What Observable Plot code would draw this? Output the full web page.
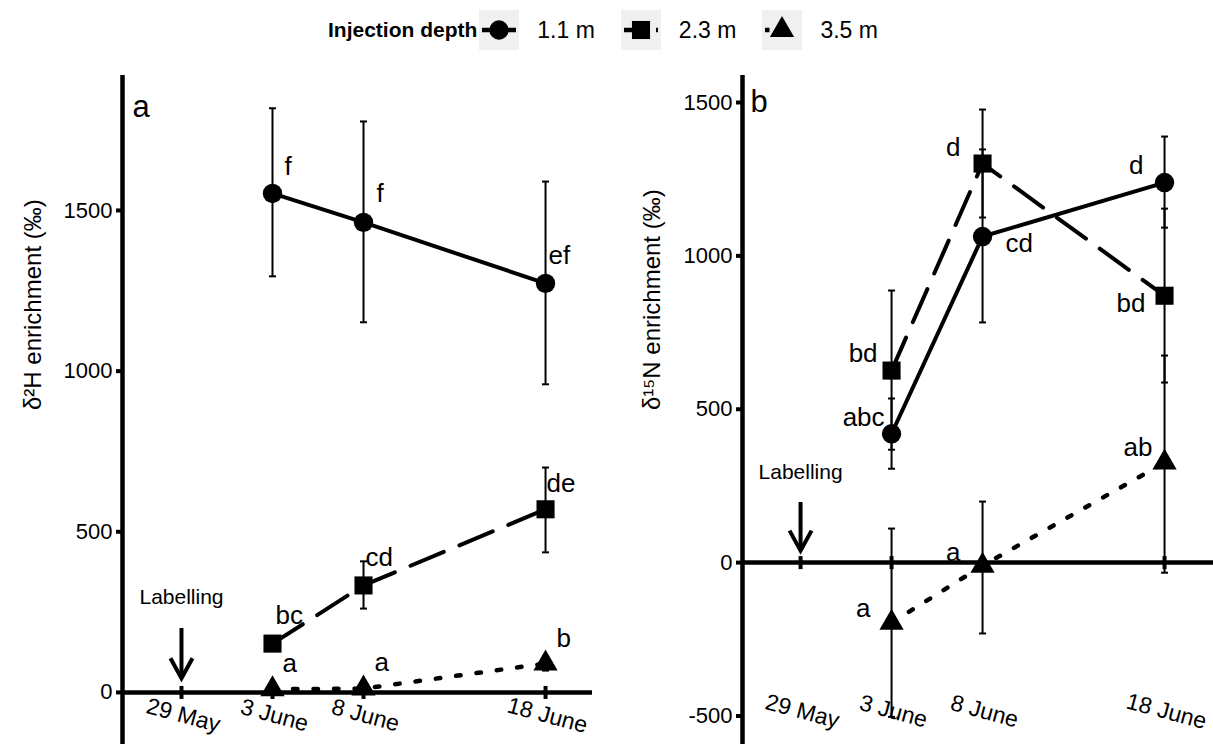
<!DOCTYPE html>
<html><head><meta charset="utf-8">
<script src="https://cdn.jsdelivr.net/npm/d3@7"></script>
<script src="https://cdn.jsdelivr.net/npm/@observablehq/plot@0.6"></script>
<style>
body{margin:0;background:#fff;font-family:"Liberation Sans",Arial,sans-serif;}
#wrap{position:relative;width:1213px;height:744px;overflow:hidden;background:#fff;}
#legend{position:absolute;top:0;left:0;width:1213px;height:60px;display:flex;align-items:center;justify-content:flex-start;padding-left:328px;box-sizing:border-box;color:#000;}
#legend .title{font-weight:bold;font-size:21px;margin-right:2px;}
#legend .lab{font-size:23px;margin:0 26px 0 18px;}
#legend svg{display:block;}
#pa{position:absolute;left:0;top:60px;}
#pb{position:absolute;left:592px;top:60px;}
</style></head><body>
<div id="wrap"><div id="legend"></div><div id="pa"></div><div id="pb"></div></div>
<script>
// ---------- data ----------
const tickDates = ["2016-05-29","2016-06-03","2016-06-08","2016-06-18"];
const tickLabels = ["29 May","3 June","8 June","18 June"];
const sampleDates = ["2016-06-03","2016-06-08","2016-06-18"];
const depths = ["1.1 m","2.3 m","3.5 m"];

// panel a: δ2H enrichment
const h2_11 = [1553, 1463, 1273];
const h2_11_lo = [1295, 1152, 959];
const h2_11_hi = [1818, 1777, 1590];
const h2_23 = [152, 333, 570];
const h2_23_lo = [134, 261, 436];
const h2_23_hi = [170, 408, 700];
const h2_35 = [10, 12, 90];
const h2_35_lo = [0, 2, 68];
const h2_35_hi = [20, 22, 112];
const h2_11_let = ["f","f","ef"];
const h2_23_let = ["bc","cd","de"];
const h2_35_let = ["a","a","b"];

// panel b: δ15N enrichment
const n15_11 = [420, 1063, 1239];
const n15_11_lo = [306, 783, 1092];
const n15_11_hi = [535, 1347, 1389];
const n15_23 = [626, 1301, 870];
const n15_23_lo = [368, 1125, 587];
const n15_23_hi = [887, 1477, 1154];
const n15_35 = [-196, -10, 326];
const n15_35_lo = [-503, -231, -33];
const n15_35_hi = [111, 199, 675];
const n15_11_let = ["abc","cd","d"];
const n15_23_let = ["bd","d","bd"];
const n15_35_let = ["a","a","ab"];

const yTicksA = [0, 500, 1000, 1500];
const yTicksB = [-500, 0, 500, 1000, 1500];
const labellingA = {top: 199, tip: 44, text: 296};
const labellingB = {top: 196, tip: 39, text: 293};

// ---------- layout / style ----------
const offA = [ // [dx, dy, anchor] per label, series order 1.1, 2.3, 3.5
  [[12,-27,"start"],[13,-29,"start"],[3,-28,"start"]],
  [[3,-28,"start"],[2,-28,"start"],[1,-26,"start"]],
  [[10,-26,"start"],[11,-26,"start"],[11,-25,"start"]]
];
const offB = [
  [[-7,-16,"end"],[23,7,"start"],[-21,-17,"end"]],
  [[-14,-17,"end"],[-22,-16,"end"],[-19,8,"end"]],
  [[-21,-14,"end"],[-22,-13,"end"],[-12,-15,"end"]]
];
const symbolOf = {"1.1 m":"circle","2.3 m":"square","3.5 m":"triangle"};
const rOf = {"1.1 m":9.7,"2.3 m":10.2,"3.5 m":9};
const dashOf = {"1.1 m":null,"2.3 m":"36,17","3.5 m":"4.5,16"};
const widthOf = {"1.1 m":4,"2.3 m":4,"3.5 m":4.5};
const FONT = "'Liberation Sans', Arial, sans-serif";

const parse = d3.utcParse("%Y-%m-%d");
const DAY = 864e5;

const vTick = {draw(c, s){const r=Math.sqrt(s/Math.PI); c.moveTo(0,-r); c.lineTo(0,r);}};
const hCap = {draw(c, s){const r=Math.sqrt(s/Math.PI); c.moveTo(-r,0); c.lineTo(r,0);}};
const vHead = {draw(c, s){const r=Math.sqrt(s/Math.PI); c.moveTo(-r*0.55,-r); c.lineTo(0,0); c.lineTo(r*0.55,-r);}};

function rows(means, lo, hi, letters, depth){
  return sampleDates.map((d,i)=>({date: parse(d), value: means[i], lo: lo[i], hi: hi[i], letter: letters[i], depth}));
}

function panel(el, o){
  const first = parse(tickDates[0]);
  const xDomain = [new Date(+first - o.leftDays*DAY), new Date(+first + o.rightDays*DAY)];
  const ticks = tickDates.map(parse);
  const marks = [];
  // axis lines
  marks.push(Plot.ruleY([0], {strokeWidth: 4.5, stroke: "black"}));
  marks.push(Plot.ruleX([xDomain[0]], {strokeWidth: 4.5, stroke: "black"}));
  marks.push(Plot.axisY({ticks: o.yTicks, tickFormat: d => String(d), tickSize: 6, tickPadding: 4, strokeWidth: 4, fontSize: 22, label: null}));
  marks.push(Plot.dot(ticks, {x: d => d, y: 0, symbol: vTick, r: 6.5, stroke: "black", fill: "none", strokeWidth: 4}));
  marks.push(Plot.text(ticks, {x: d => d, text: (d,i) => tickLabels[i], frameAnchor: "bottom", dy: o.tickDy, rotate: 15, fontSize: 23}));
  // labelling arrow
  marks.push(Plot.ruleX([first], {x: d => d, y1: o.lab.top, y2: o.lab.tip + 3, strokeWidth: 4, stroke: "black"}));
  marks.push(Plot.dot([first], {x: d => d, y: o.lab.tip, symbol: vHead, r: 20, stroke: "black", fill: "none", strokeWidth: 4, strokeLinejoin: "miter"}));
  marks.push(Plot.text([first], {x: d => d, y: o.lab.text, text: () => "Labelling", fontSize: 21}));
  // series
  o.series.forEach((s, k) => {
    const dep = depths[k];
    marks.push(Plot.ruleX(s, {x: "date", y1: "lo", y2: "hi", strokeWidth: 2, stroke: "black"}));
    marks.push(Plot.dot(s, {x: "date", y: "lo", symbol: hCap, r: 3.5, stroke: "black", fill: "none", strokeWidth: 2}));
    marks.push(Plot.dot(s, {x: "date", y: "hi", symbol: hCap, r: 3.5, stroke: "black", fill: "none", strokeWidth: 2}));
    marks.push(Plot.line(s, {x: "date", y: "value", stroke: "black", strokeWidth: widthOf[dep], strokeDasharray: dashOf[dep]}));
  });
  o.series.forEach((s, k) => {
    const dep = depths[k];
    marks.push(Plot.dot(s, {x: "date", y: "value", symbol: symbolOf[dep], r: rOf[dep], fill: "black", stroke: "none"}));
    s.forEach((row, i) => {
      const [dx, dy, anchor] = o.offsets[k][i];
      marks.push(Plot.text([row], {x: "date", y: "value", text: "letter", dx, dy, textAnchor: anchor, fontSize: 26}));
    });
  });
  marks.push(Plot.text([o.title], {text: d => d, frameAnchor: "left", rotate: -90, dx: o.titleDx, fontSize: 24}));
  marks.push(Plot.text([o.letter], {text: d => d, frameAnchor: "top-left", dx: o.letterDx, dy: o.letterDy, lineAnchor: "middle", textAnchor: "start", fontSize: 31}));

  const chart = Plot.plot({
    width: o.width, height: 684,
    marginLeft: o.marginLeft, marginRight: 0, marginTop: 15, marginBottom: 0,
    style: {fontFamily: FONT, fontSize: "20px", color: "black", background: "white", overflow: "visible"},
    x: {type: "utc", domain: xDomain, axis: null},
    y: {domain: o.yDomain, axis: null},
    marks
  });
  document.getElementById(el).appendChild(chart);
}

panel("pa", {
  width: 592, marginLeft: 122, leftDays: 3.24, rightDays: 22.58,
  yDomain: [-162, 1920], yTicks: yTicksA, tickDy: -22, lab: labellingA,
  series: [rows(h2_11,h2_11_lo,h2_11_hi,h2_11_let,"1.1 m"), rows(h2_23,h2_23_lo,h2_23_hi,h2_23_let,"2.3 m"), rows(h2_35,h2_35_lo,h2_35_hi,h2_35_let,"3.5 m")],
  offsets: offA, title: "δ²H enrichment (‰)", titleDx: -89, letter: "a", letterDx: 10, letterDy: 32
});
panel("pb", {
  width: 621, marginLeft: 150, leftDays: 3.19, rightDays: 22.69,
  yDomain: [-593, 1588], yTicks: yTicksB, tickDy: -26, lab: labellingB,
  series: [rows(n15_11,n15_11_lo,n15_11_hi,n15_11_let,"1.1 m"), rows(n15_23,n15_23_lo,n15_23_hi,n15_23_let,"2.3 m"), rows(n15_35,n15_35_lo,n15_35_hi,n15_35_let,"3.5 m")],
  offsets: offB, title: "δ¹⁵N enrichment (‰)", titleDx: -90, letter: "b", letterDx: 8, letterDy: 27
});

// ---------- legend ----------
const leg = d3.select("#legend");
leg.append("span").attr("class","title").text("Injection depth");
depths.forEach(dep => {
  const svg = leg.append("svg").attr("width", 40).attr("height", 40);
  svg.append("rect").attr("width", 40).attr("height", 40).attr("fill", "#f0f0f0");
  svg.append("line").attr("x1", 3).attr("x2", 37).attr("y1", 20).attr("y2", 20)
    .attr("stroke", "black").attr("stroke-width", 4.5)
    .attr("stroke-dasharray", dep === "2.3 m" ? "8,24" : dep === "3.5 m" ? "4.5,14" : null);
  const sym = {circle: d3.symbolCircle, square: d3.symbolSquare, triangle: d3.symbolTriangle}[symbolOf[dep]];
  const rr = rOf[dep];
  svg.append("path").attr("transform", "translate(20,20)")
    .attr("d", d3.symbol(sym, rr*rr*Math.PI)()).attr("fill", "black");
  leg.append("span").attr("class","lab").text(dep);
});
</script>
</body></html>
